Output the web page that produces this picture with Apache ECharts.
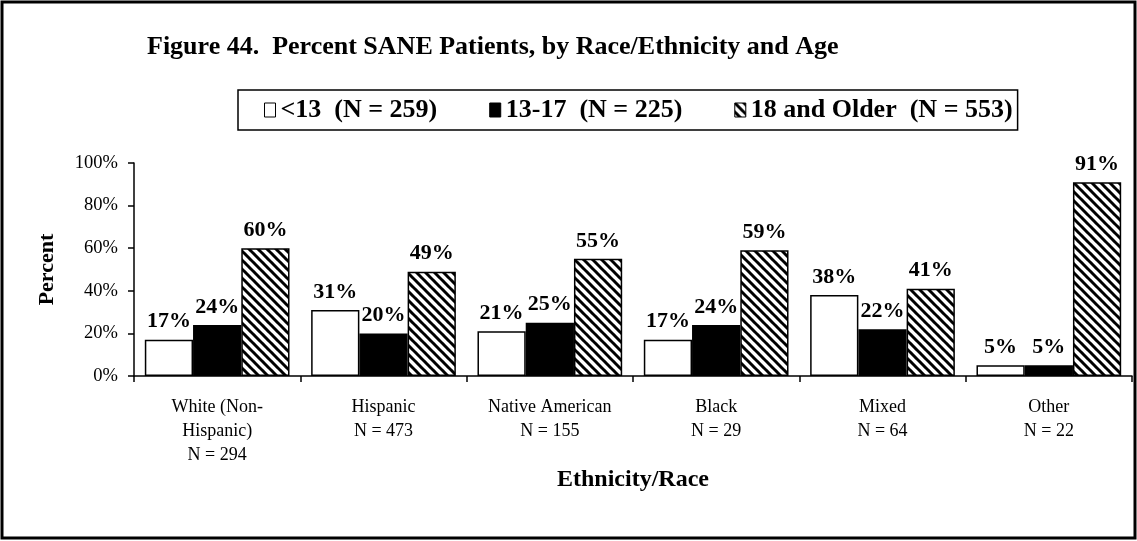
<!DOCTYPE html>
<html><head><meta charset="utf-8">
<script src="https://cdn.jsdelivr.net/npm/echarts@6/dist/echarts.min.js"></script>
<style>html,body{margin:0;padding:0;background:#fff}#c{width:1137px;height:541px}</style>
</head><body><div id="c"></div>
<script>
const categories = ['White (Non-\nHispanic)\nN = 294', 'Hispanic\nN = 473', 'Native American\nN = 155', 'Black\nN = 29', 'Mixed\nN = 64', 'Other\nN = 22'];
const seriesNames = ['<13  (N = 259)', '13-17  (N = 225)', '18 and Older  (N = 553)'];
const under13 = [17, 31, 21, 17, 38, 5];
const age13to17 = [24, 20, 25, 24, 22, 5];
const age18plus = [60, 49, 55, 59, 41, 91];
const yTicks = [0, 20, 40, 60, 80, 100];

function hatch() {
  const p = 9, c = document.createElement('canvas');
  c.width = p; c.height = p;
  const g = c.getContext('2d');
  g.fillStyle = '#fff'; g.fillRect(0, 0, p, p);
  g.strokeStyle = '#000'; g.lineWidth = 3;
  for (const o of [-p, 0, p]) {
    g.beginPath(); g.moveTo(o - 1, -1); g.lineTo(o + p + 1, p + 1); g.stroke();
  }
  return { image: c, repeat: 'repeat' };
}
const pat = hatch();
const serif = '"Liberation Serif", "Times New Roman", serif';
const lab = { show: true, position: 'top', distance: 7, fontFamily: serif, fontWeight: 'bold', fontSize: 22, color: '#000', formatter: '{c}%' };
const chart = echarts.init(document.getElementById('c'));
const fills = ['#fff', '#000', pat];
const vals = [under13, age13to17, age18plus];
chart.setOption({
  animation: false,
  backgroundColor: '#fff',
  title: { text: 'Figure 44.  Percent SANE Patients, by Race/Ethnicity and Age', left: 142, top: 29,
    textStyle: { fontFamily: serif, fontWeight: 'bold', fontSize: 26, color: '#000' } },
  legend: {
    left: 238, top: 90, padding: [7, 5, 7, 26], itemGap: 52, itemWidth: 11, itemHeight: 14,
    borderColor: '#000', borderWidth: 1.5,
    textStyle: { fontFamily: serif, fontWeight: 'bold', fontSize: 26, color: '#000' },
    data: seriesNames.map((n, i) => ({ name: n, icon: 'rect', itemStyle: { color: fills[i], borderColor: '#000', borderWidth: 1 } }))
  },
  grid: { left: 134, right: 5, top: 163, bottom: 165 },
  xAxis: {
    type: 'category', data: categories,
    name: 'Ethnicity/Race', nameLocation: 'middle', nameGap: 92,
    nameTextStyle: { fontFamily: serif, fontWeight: 'bold', fontSize: 24, color: '#000' },
    axisLine: { lineStyle: { color: '#000', width: 1.5 } },
    axisTick: { show: true, length: 6, lineStyle: { color: '#000', width: 1.5 } },
    axisLabel: { fontFamily: serif, fontSize: 18, color: '#000', lineHeight: 24, margin: 19 }
  },
  yAxis: {
    type: 'value', min: yTicks[0], max: yTicks[yTicks.length - 1], interval: 20,
    name: 'Percent', nameLocation: 'middle', nameGap: 76, nameRotate: 90,
    nameTextStyle: { fontFamily: serif, fontWeight: 'bold', fontSize: 22, color: '#000' },
    axisLine: { show: true, lineStyle: { color: '#000', width: 1.5 } },
    axisTick: { show: true, length: 6, lineStyle: { color: '#000', width: 1.5 } },
    splitLine: { show: false },
    axisLabel: { fontFamily: serif, fontSize: 18.5, color: '#000', margin: 16, formatter: '{value}%' }
  },
  series: seriesNames.map((n, i) => ({
    name: n, type: 'bar', data: vals[i], barGap: '0%', barCategoryGap: '13%',
    itemStyle: { color: fills[i], borderColor: '#000', borderWidth: 1.5 },
    label: lab
  })),
  graphic: [{ type: 'rect', shape: { x: 2, y: 2, width: 1133, height: 536 }, style: { fill: null, stroke: '#000', lineWidth: 3 }, silent: true, z: 100 }]
});
</script></body></html>
